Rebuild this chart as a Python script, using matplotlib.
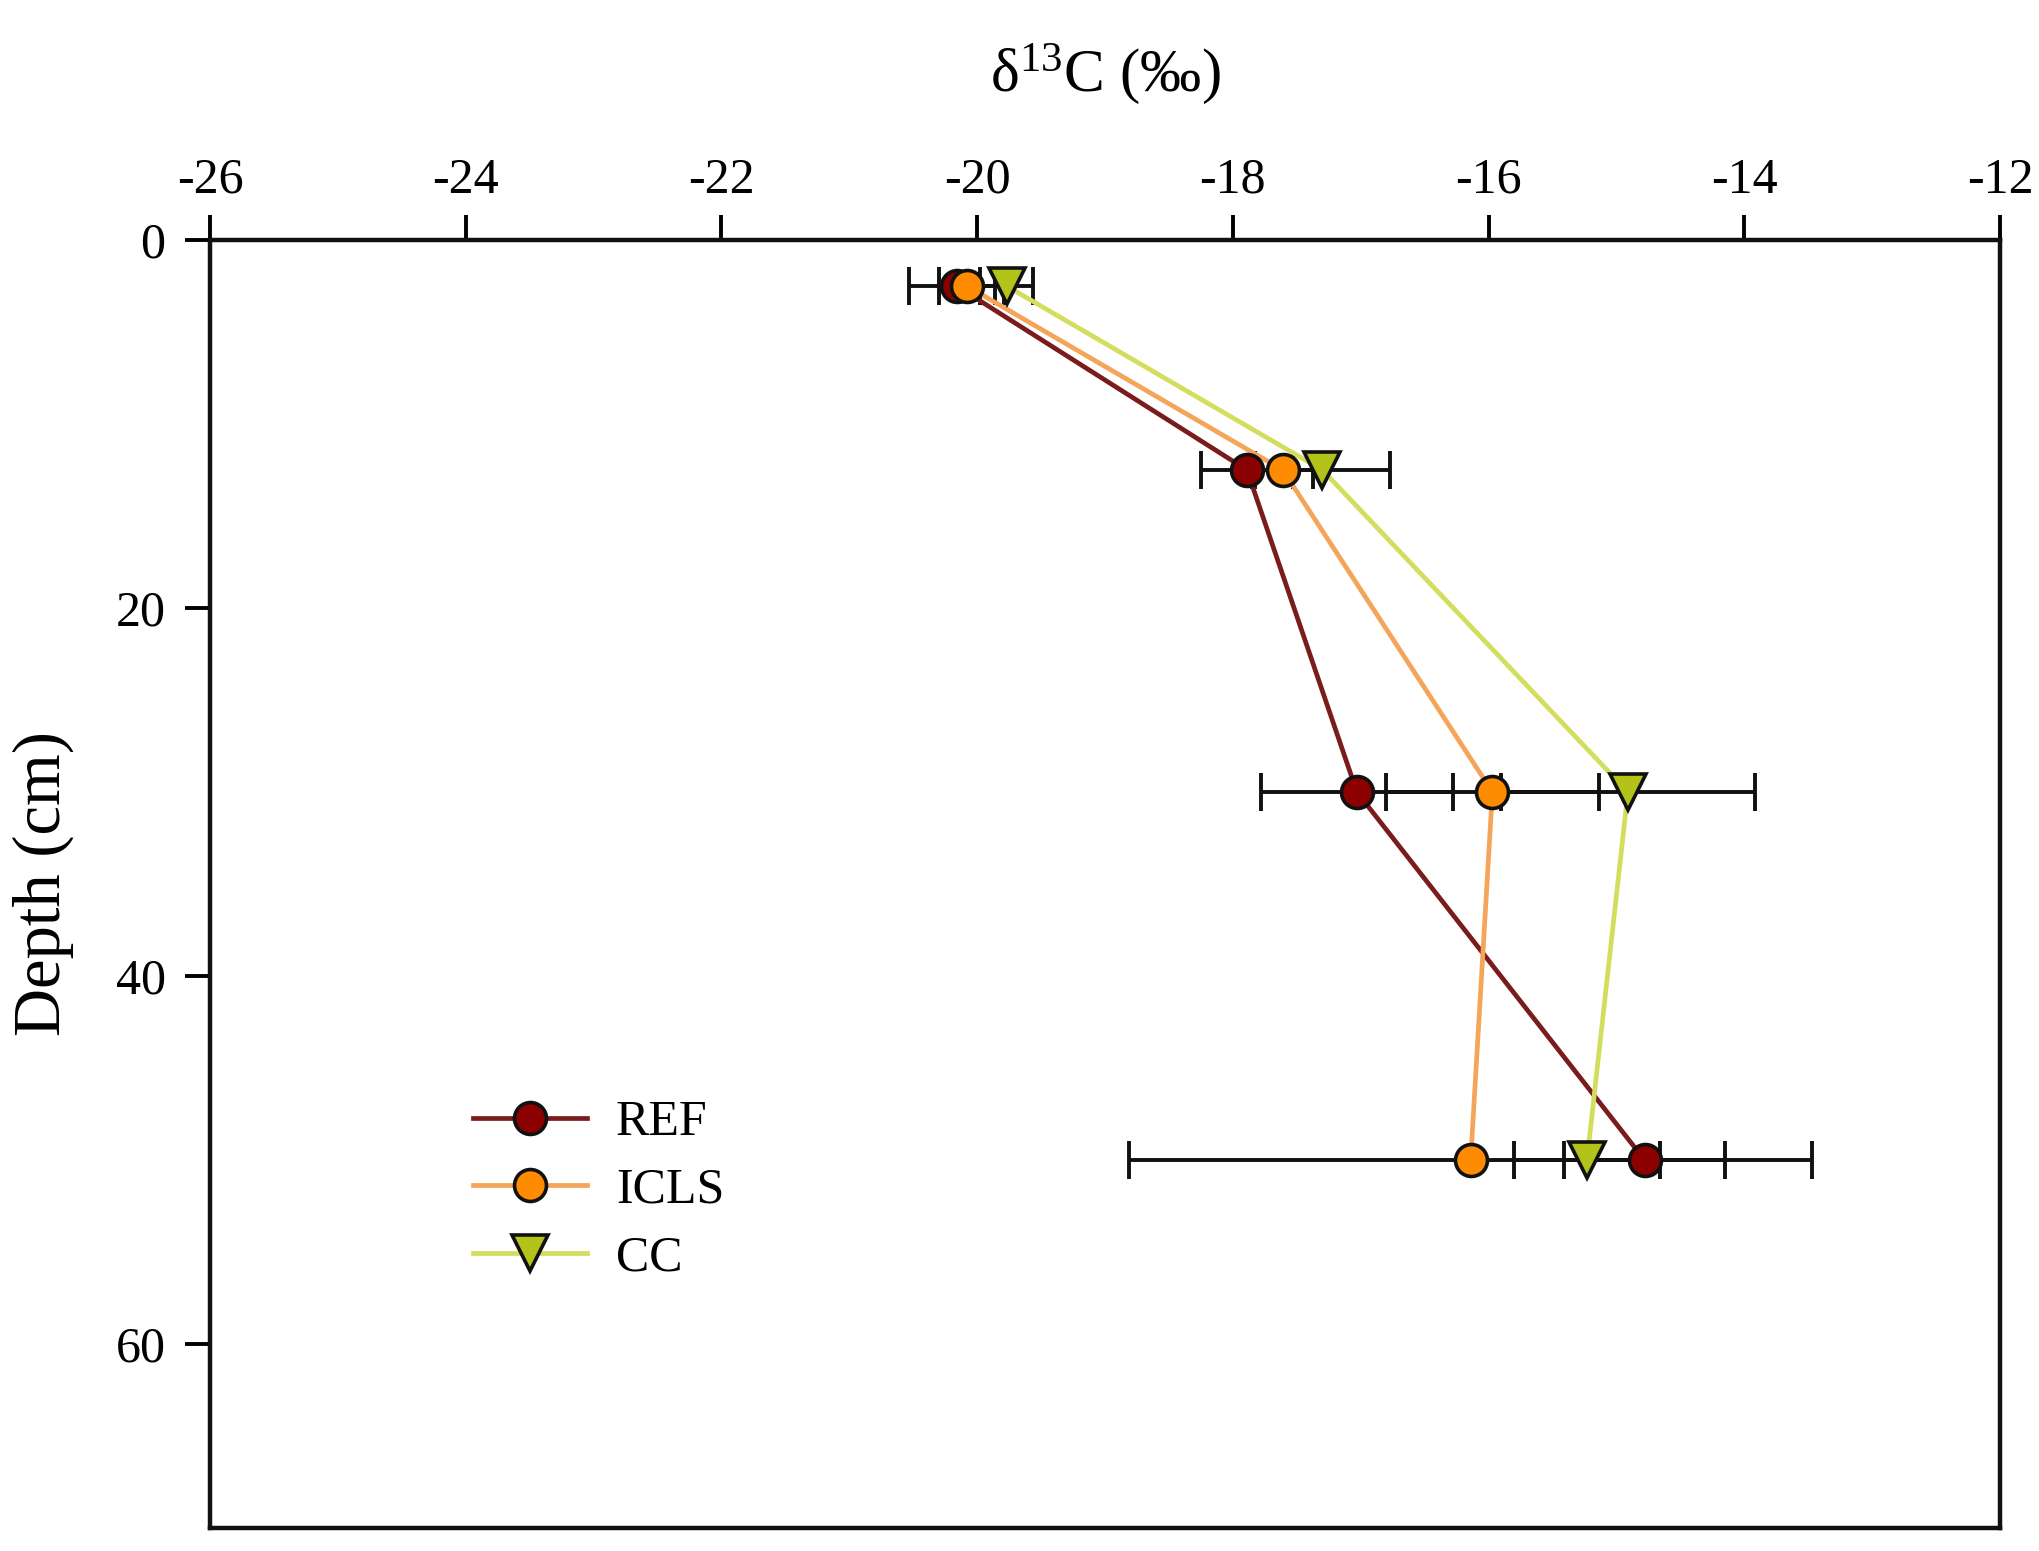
import matplotlib
matplotlib.use("Agg")
import matplotlib.pyplot as plt

# ---- data ----
depth = [2.5, 12.5, 30, 50]
series = ["REF", "ICLS", "CC"]
ref_mean = [-20.16, -17.89, -17.03, -14.78]
ref_err = [0.37, 0.36, 0.75, 0.63]
icls_mean = [-20.08, -17.61, -15.97, -16.14]
icls_err = [0.22, 0.24, 0.83, 2.67]
cc_mean = [-19.77, -17.30, -14.91, -15.23]
cc_err = [0.21, 0.53, 0.99, 0.57]
xticks = [-26, -24, -22, -20, -18, -16, -14, -12]
yticks = [0, 20, 40, 60]

plt.rcParams['font.family'] = ['Liberation Serif', 'DejaVu Serif']
plt.rcParams['axes.unicode_minus'] = False

DPI = 100
fig = plt.figure(figsize=(20.40, 15.51), dpi=DPI)
ax = fig.add_axes([210/2040, 1-1528/1551, (2000-210)/2040, (1528-240)/1551])

styles = [
    (ref_mean, ref_err, 'o', '#8B0000', '#7A1C1C', 23),
    (icls_mean, icls_err, 'o', '#FF8C00', '#F5A55A', 23),
    (cc_mean, cc_err, 'v', '#B4C31A', '#D3DD5E', 26),
]

for name, (m, e, mk, fc, lc, ms) in zip(series, styles):
    ax.errorbar(m, depth, xerr=e, fmt='none', ecolor='#111111', elinewidth=2.8,
                capsize=14, capthick=2.8, zorder=2)
for name, (m, e, mk, fc, lc, ms) in zip(series, styles):
    ax.plot(m, depth, color=lc, lw=3.4, zorder=3)
for name, (m, e, mk, fc, lc, ms) in zip(series, styles):
    ax.plot(m, depth, linestyle='none', marker=mk, markersize=ms,
            markerfacecolor=fc, markeredgecolor='#111111', markeredgewidth=2.6, zorder=4)

# legend proxies
handles = []
for name, (m, e, mk, fc, lc, ms) in zip(series, styles):
    h, = ax.plot([], [], color=lc, lw=3.4, marker=mk, markersize=ms,
                 markerfacecolor=fc, markeredgecolor='#111111', markeredgewidth=2.6)
    handles.append(h)
leg = ax.legend(handles, series, loc='upper left', bbox_to_anchor=(0.1357, 0.348),
                frameon=False, fontsize=36, handlelength=2.28, handletextpad=0.58,
                labelspacing=0.42, borderaxespad=0)

ax.set_xlim(-26, -12)
ax.set_ylim(70, 0)
ax.set_xticks(xticks)
ax.set_yticks(yticks)
ax.xaxis.tick_top()
ax.xaxis.set_label_position('top')
ax.tick_params(axis='both', direction='out', length=18, width=2.8, labelsize=36,
               top=True, bottom=False, left=True, right=False)
ax.tick_params(axis='x', pad=8)
ax.tick_params(axis='y', pad=14)
for s in ax.spines.values():
    s.set_linewidth(3.2)
    s.set_color('#111111')

ax.set_xlabel(r'$\mathregular{\delta^{13}C}$ (‰)', fontsize=44, labelpad=48)
ax.set_ylabel('Depth (cm)', fontsize=48, labelpad=30)

fig.savefig('out.png', dpi=DPI, facecolor='white')
